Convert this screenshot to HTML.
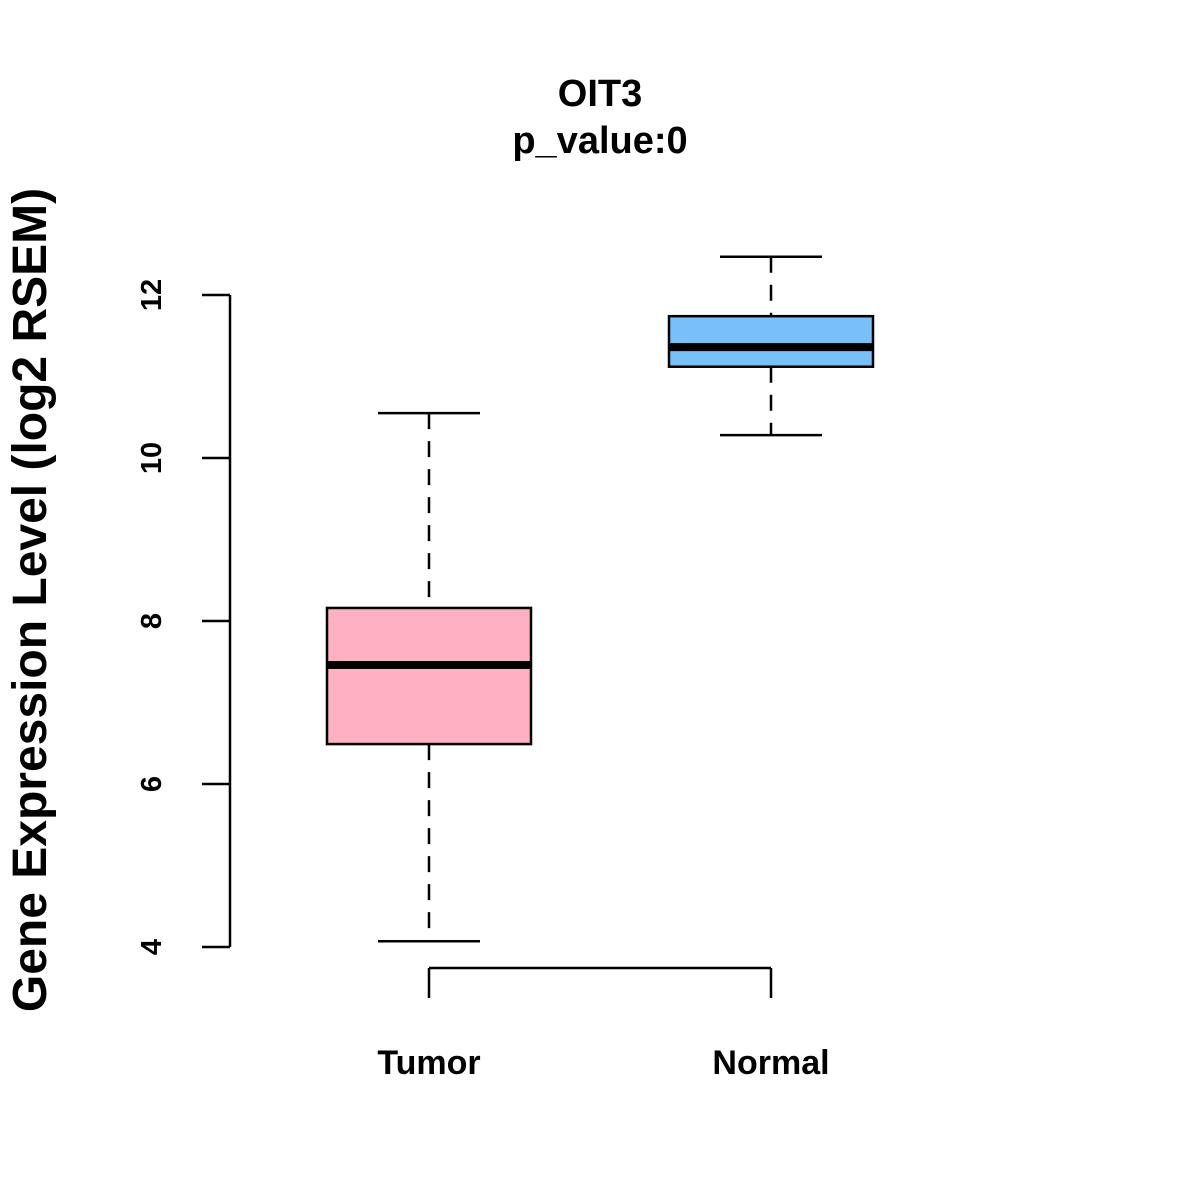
<!DOCTYPE html>
<html><head><meta charset="utf-8"><style>
html,body{margin:0;padding:0;background:#fff;}
svg{display:block;font-family:"Liberation Sans",Arial,sans-serif;font-weight:bold;}
</style></head><body>
<svg id="chart" width="1200" height="1200" viewBox="0 0 1200 1200">
<rect width="1200" height="1200" fill="#fff"/>
<text x="600" y="106" font-size="38" text-anchor="middle">OIT3</text>
<text x="600" y="153" font-size="38" text-anchor="middle">p_value:0</text>
<text transform="translate(46,600) rotate(-90)" font-size="48" text-anchor="middle">Gene Expression Level (log2 RSEM)</text>
<g id="plot"></g>
</svg>
<script>
const categories = ["Tumor", "Normal"];
const whiskerLow = [4.07, 10.28];
const q1 = [6.49, 11.12];
const medians = [7.46, 11.36];
const q3 = [8.16, 11.74];
const whiskerHigh = [10.55, 12.47];
const yTicks = [4, 6, 8, 10, 12];
const colors = ["#FFB0C1", "#78C1F8"];

const NS = "http://www.w3.org/2000/svg";
const g = document.getElementById('plot');
function y(v){ return 947 - (v - 4) * 81.5; }
function x(i){ return 429 + i * 342; }
function mk(tag, attrs){ const e = document.createElementNS(NS, tag); for (const k in attrs) e.setAttribute(k, attrs[k]); g.appendChild(e); return e; }

let ax = mk('line', {x1:230, x2:230, y1:y(yTicks[0]), y2:y(yTicks[yTicks.length-1]), stroke:'#000','stroke-width':2.5});


yTicks.forEach(t => {
  const tk = mk('line', {x1:202, x2:230, y1:y(t), y2:y(t), stroke:'#000','stroke-width':2.5});
  
  
  const lb = mk('text', {transform:`translate(161,${y(t)}) rotate(-90)`, 'font-size':29, 'text-anchor':'middle'});
  lb.textContent = t;
  
  
});
let xa = mk('line', {x1:x(0), x2:x(categories.length-1), y1:968, y2:968, stroke:'#000','stroke-width':2.5});


categories.forEach((c, i) => {
  const tk = mk('line', {x1:x(i), x2:x(i), y1:968, y2:998, stroke:'#000','stroke-width':2.5});
  
  
  const lb = mk('text', {x:x(i), y:1074, 'font-size':34, 'text-anchor':'middle'});
  lb.textContent = c;
  
  

  const cx = x(i);
  const w1 = mk('line', {x1:cx, x2:cx, y1:y(whiskerHigh[i]), y2:y(q3[i]), stroke:'#000','stroke-width':2.5,'stroke-dasharray':'16,12'});
  
  
  const w2 = mk('line', {x1:cx, x2:cx, y1:y(q1[i]), y2:y(whiskerLow[i]), stroke:'#000','stroke-width':2.5,'stroke-dasharray':'16,12'});
  
  
  const c1 = mk('line', {x1:cx-51, x2:cx+51, y1:y(whiskerHigh[i]), y2:y(whiskerHigh[i]), stroke:'#000','stroke-width':2.5});
  
  
  const c2 = mk('line', {x1:cx-51, x2:cx+51, y1:y(whiskerLow[i]), y2:y(whiskerLow[i]), stroke:'#000','stroke-width':2.5});
  
  
  const bx = mk('rect', {x:cx-102, y:y(q3[i]), width:204, height:y(q1[i])-y(q3[i]), fill:colors[i], stroke:'#000','stroke-width':2.5});
  
  
  const md = mk('line', {x1:cx-102, x2:cx+102, y1:y(medians[i]), y2:y(medians[i]), stroke:'#000','stroke-width':8});
  
  
});
</script>
</body></html>
